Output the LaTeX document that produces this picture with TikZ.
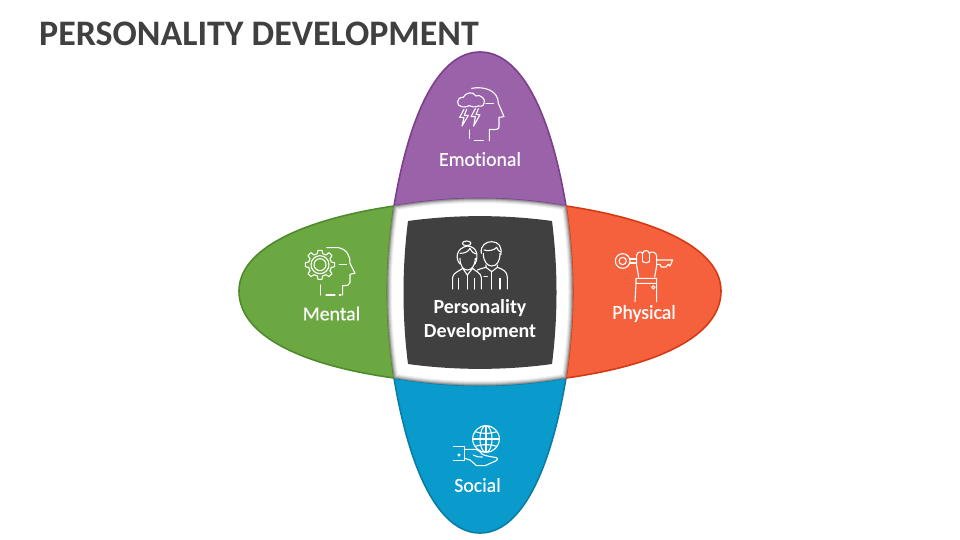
\documentclass[tikz,border=0pt]{standalone}
\usepackage{fontspec}
\setmainfont[Ligatures=NoCommon]{Carlito}
\newfontfamily\lblfont[FakeBold=0.35,Ligatures=NoCommon]{Carlito}
\definecolor{cPurple}{HTML}{9A62A9}
\definecolor{ePurple}{HTML}{7B3F8C}
\definecolor{cGreen}{HTML}{6BA842}
\definecolor{eGreen}{HTML}{4F8A2C}
\definecolor{cOrange}{HTML}{F4613C}
\definecolor{eOrange}{HTML}{D63A14}
\definecolor{cBlue}{HTML}{099BCB}
\definecolor{eBlue}{HTML}{0A7CA6}
\definecolor{cDark}{HTML}{404040}
\tikzset{
  petal/.style={line width=1.6pt},
  lbl/.style={text=white,font=\fontsize{19.8}{22}\lblfont,inner sep=0pt,anchor=center},
  clbl/.style={text=white,font=\fontsize{20}{23.5}\selectfont\bfseries,inner sep=0pt,anchor=center,align=center},
  icon/.style={draw=white,line width=1.1pt,line join=round,line cap=round},
  iconscale/.style={x=0.3333pt,y=-0.3333pt},
}
\begin{document}
\begin{tikzpicture}[x=1pt,y=-1pt]
\useasboundingbox (0,0) rectangle (960,540);
\fill[white] (0,0) rectangle (960,540);
\node[anchor=west,inner sep=0pt,text=cDark,font=\fontsize{35.9}{38}\selectfont\bfseries] (title) at (39,34) {PERSONALITY DEVELOPMENT};
% petals
\draw[petal,fill=cPurple,draw=ePurple] (394,206) .. controls (410,110) and (440,52) .. (480,52) .. controls (520,52) and (550,110) .. (566,206) .. controls (510,196) and (450,196) .. (394,206) -- cycle;
\draw[petal,fill=cBlue,draw=eBlue] (394,378) .. controls (410,474) and (440,533) .. (480,533) .. controls (520,533) and (550,474) .. (566,378) .. controls (510,388) and (450,388) .. (394,378) -- cycle;
\draw[petal,fill=cGreen,draw=eGreen] (394,206) .. controls (300,220) and (239,250) .. (239,291) .. controls (239,335) and (300,365) .. (394,378) .. controls (385,320) and (385,264) .. (394,206) -- cycle;
\draw[petal,fill=cOrange,draw=eOrange] (566,206) .. controls (660,220) and (721,250) .. (721,291) .. controls (721,335) and (660,365) .. (566,378) .. controls (575,320) and (575,264) .. (566,206) -- cycle;
% white frame with inner shadow
\fill[white] (394,206) .. controls (450,196) and (510,196) .. (566,206) .. controls (575,264) and (575,320) .. (566,378) .. controls (510,388) and (450,388) .. (394,378) .. controls (385,320) and (385,264) .. (394,206) -- cycle;
\begin{scope}
\clip (394,206) .. controls (450,196) and (510,196) .. (566,206) .. controls (575,264) and (575,320) .. (566,378) .. controls (510,388) and (450,388) .. (394,378) .. controls (385,320) and (385,264) .. (394,206) -- cycle;
\foreach \w/\o in {9/0.06,7/0.08,5/0.10,3/0.14,1.5/0.18}{
\draw[black,opacity=\o,line width=\w pt] (394,206) .. controls (450,196) and (510,196) .. (566,206) .. controls (575,264) and (575,320) .. (566,378) .. controls (510,388) and (450,388) .. (394,378) .. controls (385,320) and (385,264) .. (394,206) -- cycle;
}
\end{scope}
% centre
\fill[cDark] (408,221) .. controls (455,214.5) and (505,214.5) .. (552,221) .. controls (558,268) and (558,317) .. (552,364) .. controls (505,370.5) and (455,370.5) .. (408,364) .. controls (402,317) and (402,268) .. (408,221) -- cycle;
% labels
\node[lbl] (emotional) at (480,159) {Emotional};
\node[lbl] (mental) at (331.5,313.5) {Mental};
\node[lbl] (physical) at (644,313.5) {Physical};
\node[lbl] (social) at (477.5,485) {Social};
\node[clbl] (centre) at (480,320) {Personality\\Development};
% people icon
\begin{scope}[iconscale,xshift=380pt,yshift=-190pt]
\draw[icon] (240,222) .. controls (225,205) and (228,175) .. (262,168) .. controls (290,170) and (298,195) .. (285,222);
\draw[icon] (260,160) ellipse (13 and 7);
\draw[icon] (240,190) .. controls (255,190) and (265,185) .. (270,175) .. controls (275,185) and (280,190) .. (288,192);
\draw[icon] (240,205) .. controls (240,228) and (250,240) .. (262,240) .. controls (275,240) and (285,228) .. (286,205);
\draw[icon] (218,297) -- (218,262) .. controls (220,248) and (235,245) .. (248,235);
\draw[icon] (278,235) .. controls (288,245) and (302,248) .. (304,262) -- (304,297);
\draw[icon] (248,235) -- (262,255) -- (278,235);
\draw[icon] (262,255) -- (262,297) (236,265) -- (236,297) (284,265) -- (284,297);
\draw[icon] (304,190) .. controls (300,165) and (320,155) .. (335,155) .. controls (355,155) and (368,170) .. (362,195);
\draw[icon] (312,180) .. controls (325,185) and (345,180) .. (350,172) .. controls (352,180) and (358,185) .. (362,185);
\draw[icon] (310,190) .. controls (310,215) and (322,228) .. (335,228) .. controls (350,228) and (360,215) .. (360,190);
\draw[icon] (318,225) -- (318,232) -- (335,245) -- (352,232) -- (352,225);
\draw[icon] (292,240) .. controls (302,236) and (310,234) .. (318,232);
\draw[icon] (352,232) .. controls (370,238) and (382,245) .. (382,262) -- (382,297);
\draw[icon] (335,245) -- (335,297) (360,265) -- (360,297) (312,260) -- (322,260);
\end{scope}
% emotional icon
\begin{scope}[iconscale,xshift=430pt,yshift=-70pt]
\draw[icon] (125,55) .. controls (160,48) and (205,60) .. (205,100) -- (222,140) -- (207,142) -- (207,170) .. controls (207,178) and (200,180) .. (178,178) -- (178,212);
\draw[icon] (168,100) -- (190,100) (118,180) -- (118,205) (133,212) -- (160,212);
\draw[icon] (95,110) .. controls (78,110) and (78,80) .. (100,82) .. controls (105,68) and (130,62) .. (138,78) .. controls (150,70) and (170,90) .. (162,100) .. controls (160,110) and (150,110) .. (145,108) .. controls (135,112) and (125,112) .. (118,107) .. controls (110,112) and (100,112) .. (95,110);
\draw[icon] (102,118) -- (89,142) -- (102,142) -- (96,168) -- (115,136) -- (103,136) -- (110,118);
\draw[icon] (136,116) -- (123,140) -- (136,140) -- (131,168) -- (150,134) -- (138,134) -- (145,116);
\end{scope}
% mental icon
\begin{scope}[iconscale,xshift=290pt,yshift=-235pt]
\draw[icon] (110,38) -- (145,38) .. controls (170,42) and (182,65) .. (180,85) -- (195,115) -- (180,118) -- (180,143) .. controls (180,150) and (172,152) .. (158,152) -- (158,180);
\draw[icon] (148,88) -- (170,88) (92,150) -- (92,180) (108,180) -- (135,180) (148,180) -- (153,180);
\draw[icon] (84,46) -- (96,46) -- (98,56) -- (108,60) -- (117,53) -- (126,62) -- (120,71) -- (124,81) -- (134,83) -- (134,95) -- (124,97) -- (120,107) -- (126,116) -- (117,125) -- (108,119) -- (98,123) -- (96,133) -- (84,133) -- (82,123) -- (72,119) -- (63,125) -- (54,116) -- (60,107) -- (56,97) -- (46,95) -- (46,83) -- (56,81) -- (60,71) -- (54,62) -- (63,53) -- (72,60) -- (82,56) -- cycle;
\draw[icon] (90,89) circle (27);
\draw[icon] (90,89) circle (18);
\end{scope}
% physical icon
\begin{scope}[iconscale,xshift=600pt,yshift=-235pt]
\draw[icon] (68,78) circle (22);
\draw[icon] (68,78) circle (11);
\draw[icon] (90,72) -- (110,72) (90,84) -- (110,84);
\draw[icon] (170,75) -- (218,75) -- (210,93) -- (205,88) -- (198,96) -- (184,96) -- (180,88) -- (170,88);
\draw[icon] (110,92) -- (110,62) .. controls (110,50) and (124,48) .. (128,55) .. controls (130,44) and (146,44) .. (148,55) .. controls (152,48) and (168,50) .. (170,62) -- (170,92) -- (164,126);
\draw[icon] (128,55) -- (128,80) (148,55) -- (148,80);
\draw[icon] (128,80) .. controls (135,85) and (142,85) .. (148,80);
\draw[icon] (110,92) -- (116,126) (108,130) -- (170,130) -- (170,145) -- (108,145) -- cycle;
\draw[icon] (108,145) -- (105,200) (170,145) -- (170,200);
\draw[icon] (160,157) circle (5);
\end{scope}
% social icon
\begin{scope}[iconscale,xshift=435pt,yshift=-415pt]
\draw[icon] (153,72) circle (40);
\draw[icon] (153,72) ellipse (18 and 40);
\draw[icon] (153,32) -- (153,112) (113,72) -- (193,72);
\draw[icon] (120,50) .. controls (140,57) and (166,57) .. (186,50);
\draw[icon] (120,94) .. controls (140,87) and (166,87) .. (186,94);
\draw[icon] (55,95) -- (88,95) -- (88,137) -- (55,137);
\draw[icon] (72,120) circle (3);
\draw[icon] (88,103) -- (122,103) .. controls (132,104) and (135,112) .. (142,118) .. controls (150,123) and (175,126) .. (185,128) .. controls (190,132) and (188,136) .. (182,138) -- (150,152) -- (125,152) -- (105,135) -- (88,130);
\draw[icon] (115,120) .. controls (125,125) and (135,128) .. (142,126);
\end{scope}
\end{tikzpicture}
\end{document}
